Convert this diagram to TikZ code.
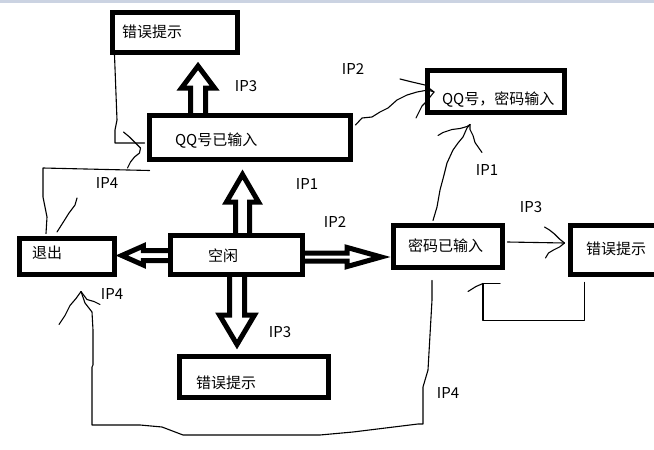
\documentclass[tikz,border=0pt]{standalone}
\usepackage{fontspec}
\setmainfont{Noto Sans CJK SC}
\usetikzlibrary{calc}
\definecolor{stripgrey}{HTML}{CBD3E2}
\tikzset{
  statebox/.style={draw, line width=5pt, align=left, inner ysep=0pt,
    text height=12pt, text depth=2pt},
  fat/.style={line width=5pt, line join=miter},
  wire/.style={line width=1.1pt, line join=round, line cap=round},
  iplabel/.style={inner sep=0pt}
}

\begin{document}
\begin{tikzpicture}[x=1pt, y=-1pt, font=\fontsize{15}{18}\selectfont]
\newcommand{\fatarrow}[5]{%
  \coordinate (fa-s) at (#1);
  \coordinate (fa-t) at (#2);
  \coordinate (fa-b) at ($(fa-t)!#5!(fa-s)$);
  \draw[fat] ($(fa-s)!#3!90:(fa-t)$) -- ($(fa-b)!#3!90:(fa-t)$) -- ($(fa-b)!#4!90:(fa-t)$)
    -- (fa-t) -- ($(fa-b)!#4!-90:(fa-t)$) -- ($(fa-b)!#3!-90:(fa-t)$) -- ($(fa-s)!#3!-90:(fa-t)$);
}

\useasboundingbox (0,0) rectangle (654,450);
\fill[white] (0,0) rectangle (654,450);
\fill[stripgrey] (0,0) rectangle (654,3);

\node[statebox, inner xsep=9.5pt, text width=106pt, minimum height=40pt] (errqq) at (175,32.5) {错误提示};
\node[statebox, inner xsep=25.5pt, text width=150pt, minimum height=44pt, text height=17pt] (qqin) at (250,137.5) {QQ号已输入};
\node[statebox, inner xsep=14.5pt, text width=108pt, minimum height=42pt, text height=27pt] (qqpw) at (496,91.5) {QQ号，密码输入};
\node[statebox, inner xsep=14.5pt, text width=80pt, minimum height=42pt] (mima) at (448,246.5) {密码已输入};
\node[statebox, inner xsep=15.5pt, text width=66pt, minimum height=49pt, text depth=4pt] (errpw) at (619,250) {错误提示};
\node[statebox, inner xsep=12.5pt, text width=70pt, minimum height=36pt, text depth=9pt] (tuichu) at (67,256.5) {退出};
\node[statebox, inner xsep=37.5pt, text width=57pt, minimum height=39pt, text height=14pt] (kongxian) at (236.5,255) {空闲};
\node[statebox, inner xsep=16.5pt, text width=116pt, minimum height=41pt, text height=24pt] (errkx) at (254,377) {错误提示};

\fatarrow{$(kongxian.north)+(6,0)$}{$(qqin.south)+(-7.5,12.5)$}{7pt}{16pt}{27.5pt}
\fatarrow{$(qqin.north)+(-52,0)$}{$(errqq.south)+(23,11)$}{7.5pt}{16.5pt}{22pt}
\fatarrow{$(kongxian.west)+(0,0.5)$}{$(tuichu.east)+(4.8,-1)$}{5pt}{9.5pt}{21.5pt}
\fatarrow{$(kongxian.east)+(0,2)$}{$(mima.west)+(-9.8,10.5)$}{4pt}{9.5pt}{34pt}
\fatarrow{$(kongxian.south)+(0.5,0)$}{$(errkx.north)+(-17,-9.5)$}{7.5pt}{17.5pt}{29.5pt}

\coordinate (t1) at ($(qqin.west)+(-6.5,10.5)$);
\draw[wire] ($(errqq.south west)+(4.5,0)$) -- (117,120) -- (115,130) -- (115,143) -- ($(qqin.west)+(-2.5,5.5)$);
\draw[wire] (t1) -- ++(-5,-5) -- ++(-6,-6) -- ++(-6,-5);
\draw[wire] (t1) -- ++(-1,5) -- ++(-5,4) -- ++(-4,5) -- ++(-3,6);

\coordinate (t2) at ($(tuichu.north west)+(40,-4)$);
\draw[wire] ($(qqin.south west)+(2.5,8.5)$) -- (43,168) -- (43,197) -- (47,217) -- ($(tuichu.north west)+(29,-2.5)$);
\draw[wire] (t2) -- ++(7,-11) -- ++(5,-8) -- ++(6,-8) -- ++(2,-7);

\coordinate (t3) at ($(qqpw.west)+(9,0.5)$);
\draw[wire] ($(qqin.east)+(2.5,-12.5)$) -- (362,118) -- (372,117) -- (380,112) -- (388,108) -- (397,100)
  -- (407,95) -- (417,92) -- (428,90) -- (t3);
\draw[wire] (t3) -- ++(-9,-7) -- ++(-13,-3) -- ++(-12,-3);
\draw[wire] (t3) -- ++(-8,10) -- ++(-4,4) -- ++(-3,6) -- ++(-3,6);

\coordinate (t4) at ($(qqpw.south)+(-26,9.5)$);
\draw[wire] ($(mima.north)+(-15,-2.5)$) -- (437,207) -- (440,190) -- (444,175) -- (447,163) -- (453,150)
  -- (458,143) -- (463,137) -- (467,128) -- (t4);
\draw[wire] (t4) -- ++(-3,2) -- ++(-7,2) -- ++(-8,1) -- ++(-9,3) -- ++(-5,3);
\draw[wire] (t4) -- ++(0,5) -- ++(3,6) -- ++(2,7) -- ++(7,10);

\coordinate (t5) at ($(errpw.west)+(-3.5,-7)$);
\draw[wire] ($(mima.east)+(2.5,-4.5)$) -- (t5);
\draw[wire] (t5) -- ++(-5,-4) -- ++(-5,-5) -- ++(-5,-4) -- ++(-5,-3);
\draw[wire] (t5) -- ++(-5,4) -- ++(-6,3) -- ++(-5,3) -- ++(-3,5);

\coordinate (t6) at ($(mima.south)+(35,13.5)$);
\draw[wire] ($(errpw.south west)+(16.5,5.5)$) -- ++(0,38) -| (t6);
\draw[wire] (t6) -- ++(17,0);
\draw[wire] (t6) -- ++(-7,3) -- ++(-8,5);

\coordinate (t7) at ($(tuichu.south)+(14,14.5)$);
\draw[wire] ($(mima.south)+(-16,10.5)$) -- (432,300) -- (428,370) -- (423,387) -- (423,424) -- (418,424)
  -- (353,432) -- (320,435) -- (183,435) -- (162,427) -- (140,425) -- (92,425) -- (92,367) -- (93,365)
  -- (93,330) -- (92,312) -- (85,303) -- (t7);
\draw[wire] (t7) -- ++(-5,7) -- ++(-6,7) -- ++(-5,10) -- ++(-6,9);
\draw[wire] (t7) -- ++(6,8) -- ++(7,2) -- ++(6,3);

\node[iplabel] (ip3a) at (246,86) {IP3};
\node[iplabel] (ip2a) at (353,69) {IP2};
\node[iplabel] (ip4a) at (107,183) {IP4};
\node[iplabel] (ip1a) at (307,184) {IP1};
\node[iplabel] (ip2b) at (335,222) {IP2};
\node[iplabel] (ip1b) at (487,170) {IP1};
\node[iplabel] (ip3b) at (531,207) {IP3};
\node[iplabel] (ip4b) at (112,294) {IP4};
\node[iplabel] (ip3c) at (280,332) {IP3};
\node[iplabel] (ip4c) at (448,393) {IP4};
\end{tikzpicture}
\end{document}
